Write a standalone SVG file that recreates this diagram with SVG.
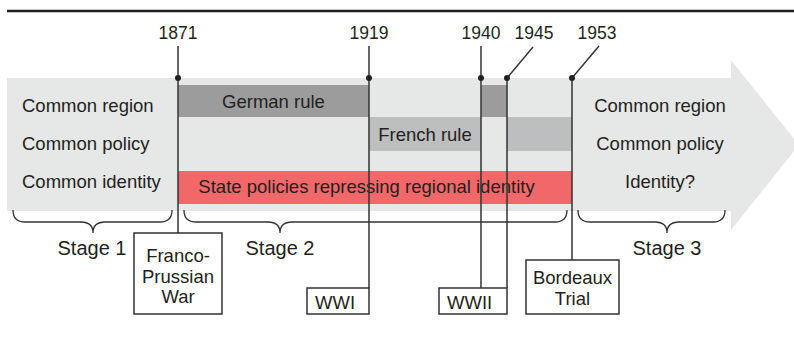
<svg xmlns="http://www.w3.org/2000/svg" width="794" height="340" viewBox="0 0 794 340">
<style>
text{font-family:"Liberation Sans",Arial,Helvetica,sans-serif;fill:#231f20}
.t{font-size:18.5px}
.y{font-size:17.5px;text-anchor:middle}
.st{font-size:20px;text-anchor:middle}
.m{text-anchor:middle}
.ln{stroke:#333;stroke-width:1.5;fill:none}
.br{stroke:#333;stroke-width:1.3;fill:none}
.box{fill:#fff;stroke:#333;stroke-width:1.5}
.dot{fill:#231f20}
</style>
<rect x="0" y="0" width="794" height="340" fill="#fff"/>
<line x1="7" y1="11" x2="794" y2="11" stroke="#231f20" stroke-width="2.5"/>
<g id="arrow">
<path d="M7,78 H731 V60 L799,145 L731,230 V211 H7 Z" fill="#e6e7e7"/>
</g>
<g id="bars">
<rect id="german1" x="178" y="85" width="191" height="32" fill="#9c9c9d"/>
<rect id="german2" x="481" y="85" width="26" height="32" fill="#9c9c9d"/>
<rect id="french1" x="369" y="117" width="112" height="34" fill="#bdbebf"/>
<rect id="french2" x="507" y="117" width="65" height="34" fill="#bdbebf"/>
<rect id="repress" x="178" y="171" width="394" height="33" fill="#f26869"/>
</g>
<g id="labels">
<text class="t" x="22" y="112">Common region</text>
<text class="t" x="22" y="150">Common policy</text>
<text class="t" x="22" y="188">Common identity</text>
<text class="t m" x="273.5" y="108">German rule</text>
<text class="t m" x="425" y="141">French rule</text>
<text class="t m" x="366.5" y="193">State policies repressing regional identity</text>
<text class="t m" x="660" y="112">Common region</text>
<text class="t m" x="660" y="150">Common policy</text>
<text class="t m" x="660" y="188">Identity?</text>
</g>
<g id="years">
<text class="y" x="178" y="39">1871</text>
<text class="y" x="369" y="39">1919</text>
<text class="y" x="481" y="39">1940</text>
<text class="y" x="534" y="39">1945</text>
<text class="y" x="597" y="39">1953</text>
</g>
<g id="connectors">
<line class="ln" x1="178" y1="46" x2="178" y2="233"/>
<line class="ln" x1="369" y1="46" x2="369" y2="288"/>
<line class="ln" x1="481" y1="46" x2="481" y2="288"/>
<polyline class="ln" points="533,47 507,78 507,288"/>
<polyline class="ln" points="599,46 572,78 572,260"/>
<circle class="dot" cx="178" cy="78" r="3"/>
<circle class="dot" cx="369" cy="78" r="3"/>
<circle class="dot" cx="481" cy="78" r="3"/>
<circle class="dot" cx="507" cy="78" r="3"/>
<circle class="dot" cx="572" cy="78" r="3"/>
</g>
<g id="stage1">
<path class="br" d="M13,210 Q13,222 25,222 H81 Q93,222 93,233 Q93,222 105,222 H160 Q172,222 172,210"/>
<text class="st" x="92" y="255">Stage 1</text>
</g>
<g id="stage2">
<path class="br" d="M184,210 Q184,222 196,222 H268 Q280,222 280,233 Q280,222 292,222 H555 Q567,222 567,210"/>
<text class="st" x="280" y="255">Stage 2</text>
</g>
<g id="stage3">
<path class="br" d="M578,210 Q578,222 590,222 H655 Q667,222 667,233 Q667,222 679,222 H713 Q725,222 725,210"/>
<text class="st" x="667" y="255">Stage 3</text>
</g>
<g id="franco-prussian">
<rect class="box" x="134" y="233" width="88" height="81"/>
<text class="t m" x="178" y="262">Franco-</text>
<text class="t m" x="178" y="283">Prussian</text>
<text class="t m" x="178" y="303">War</text>
</g>
<g id="wwi">
<rect class="box" x="307" y="288" width="62" height="26"/>
<text class="t" x="315" y="309">WWI</text>
</g>
<g id="wwii">
<rect class="box" x="439" y="288" width="68" height="26"/>
<text class="t" x="447" y="309">WWII</text>
</g>
<g id="bordeaux">
<rect class="box" x="526" y="260" width="93" height="54"/>
<text class="t m" x="572.5" y="284">Bordeaux</text>
<text class="t m" x="572.5" y="305">Trial</text>
</g>
</svg>
